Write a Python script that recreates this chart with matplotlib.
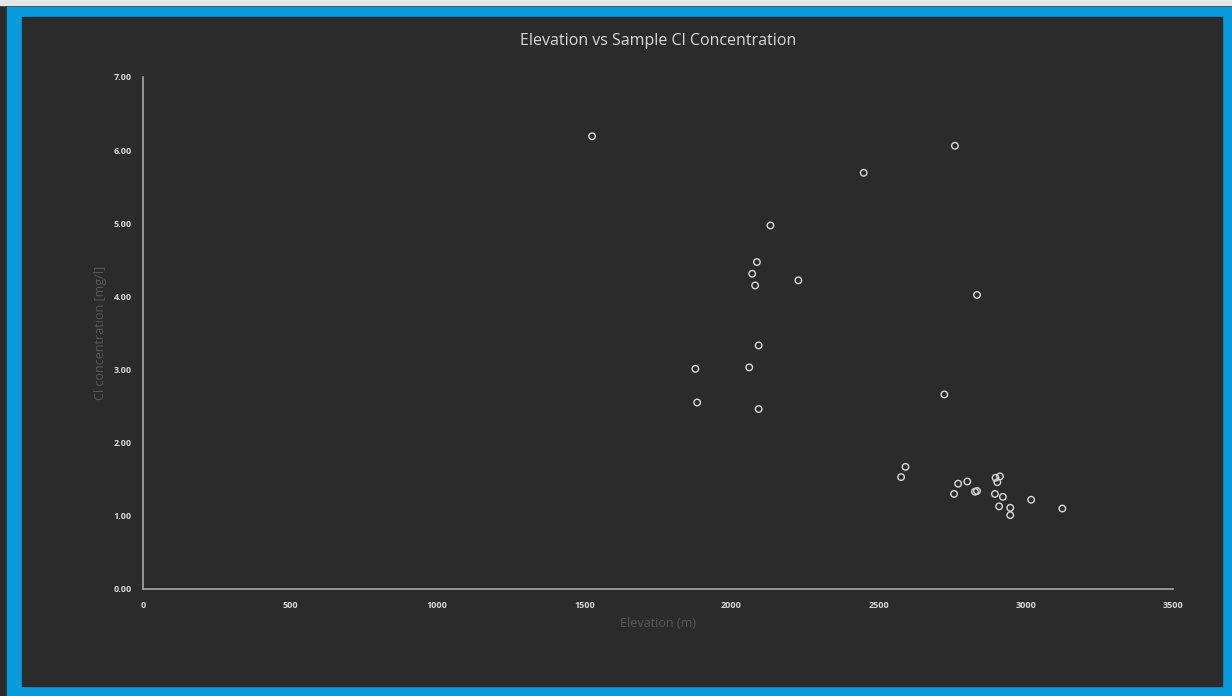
import matplotlib
matplotlib.use('Agg')
import matplotlib.pyplot as plt
from matplotlib.patches import Rectangle
from matplotlib.ticker import FormatStrFormatter, MultipleLocator

# muestras: elevacion (m) y concentracion de Cl (mg/l)
elevacion = [1526, 2759, 2449, 2132, 2086, 2070, 2080, 2227, 2834, 2092,
             1877, 2060, 1883, 2092, 2723,
             2591, 2576, 2770, 2801, 2756, 2827, 2834, 2897, 2912, 2903,
             2895, 2922, 2909, 2947, 2947, 3018, 3124]
cloruro = [6.19, 6.06, 5.69, 4.97, 4.47, 4.31, 4.15, 4.22, 4.02, 3.33,
           3.01, 3.03, 2.55, 2.46, 2.66,
           1.67, 1.53, 1.44, 1.47, 1.30, 1.33, 1.34, 1.52, 1.54, 1.46,
           1.30, 1.26, 1.13, 1.11, 1.01, 1.22, 1.10]

W, H = 1232, 696
fondo = '#2b2b2b'
azul = '#0a9bdc'

plt.rcParams['font.family'] = ['Open Sans', 'DejaVu Sans']
fig = plt.figure(figsize=(W / 100, H / 100), dpi=100)
fig.patch.set_facecolor(fondo)

# marco azul alrededor del grafico
fig.patches.append(Rectangle((0, 1 - 5 / H), 1, 5 / H, transform=fig.transFigure,
                             color='#e6e6e6', zorder=-3))
fig.patches.append(Rectangle((7 / W, 0), 1 - 7 / W, 1 - 7 / H, transform=fig.transFigure,
                             color=azul, zorder=-2))
fig.patches.append(Rectangle((22 / W, 10 / H), (1222 - 22) / W, (686 - 17) / H,
                             transform=fig.transFigure, color=fondo, zorder=-1))

ax = fig.add_axes([143 / W, 1 - 589 / H, (1173 - 143) / W, (589 - 77) / H])
ax.set_zorder(2)
ax.patch.set_alpha(0)

ax.scatter(elevacion, cloruro, s=22, facecolors='none', edgecolors='#d9d9d9',
           linewidths=1.0, zorder=3)

ax.set_xlim(0, 3500)
ax.set_ylim(0, 7)
ax.xaxis.set_major_locator(MultipleLocator(500))
ax.yaxis.set_major_locator(MultipleLocator(1))
ax.yaxis.set_major_formatter(FormatStrFormatter('%.2f'))

for lado in ['top', 'right']:
    ax.spines[lado].set_visible(False)
for lado in ['left', 'bottom']:
    ax.spines[lado].set_color('#a6a6a6')
    ax.spines[lado].set_linewidth(1.2)

ax.tick_params(axis='both', length=0, labelsize=6.5, labelcolor='#d9d9d9')
ax.tick_params(axis='x', pad=9)
ax.tick_params(axis='y', pad=8)
for lbl in ax.get_xticklabels() + ax.get_yticklabels():
    lbl.set_fontweight('bold')

ax.set_xlabel('Elevation (m)', color='#595959', fontsize=9, labelpad=5)
ax.set_ylabel('Cl concentration [mg/l]', color='#595959', fontsize=9, labelpad=5)

fig.text((143 + 1173) / 2 / W, 1 - 41 / H, 'Elevation vs Sample Cl Concentration',
         ha='center', va='center', color='#d9d9d9', fontsize=11.5)

fig.savefig('out.png', dpi=100, facecolor=fig.get_facecolor())
